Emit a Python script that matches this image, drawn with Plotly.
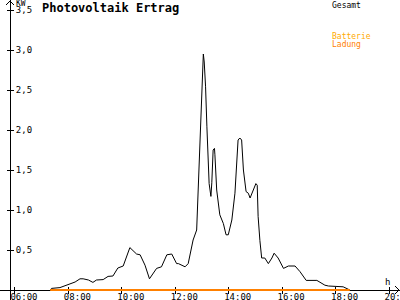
import plotly.graph_objects as go

DAY = "2024-06-01 "

# Gesamt (kW)
gesamt_time = ["07:19", "07:22", "07:41", "08:04", "08:15", "08:26", "08:33", "08:45", "08:55",
               "09:03", "09:18", "09:29", "09:40", "09:51", "10:03", "10:18", "10:33", "10:41",
               "10:52", "11:02", "11:18", "11:29", "11:41", "11:52", "12:03", "12:07", "12:22",
               "12:29", "12:40", "12:48", "12:55", "12:58", "13:00", "13:03", "13:05", "13:08",
               "13:11", "13:14", "13:16", "13:20", "13:22", "13:25", "13:28", "13:29", "13:33",
               "13:40", "13:48", "13:54", "13:59", "14:07", "14:14", "14:21", "14:25", "14:29",
               "14:33", "14:39", "14:44", "14:48", "14:54", "15:01", "15:04", "15:06", "15:10",
               "15:14", "15:21", "15:29", "15:37", "15:42", "15:51", "16:03", "16:14", "16:29",
               "16:40", "16:54", "17:18", "17:36", "17:44", "18:17", "18:32"]
gesamt_kw = [0.0, 0.02, 0.03, 0.075, 0.10, 0.14, 0.14, 0.125, 0.095,
             0.125, 0.13, 0.17, 0.175, 0.275, 0.30, 0.53, 0.45, 0.44,
             0.31, 0.14, 0.27, 0.29, 0.44, 0.45, 0.33, 0.33, 0.29,
             0.33, 0.625, 0.75, 1.75, 2.12, 2.54, 2.95, 2.85, 2.54,
             2.04, 1.62, 1.33, 1.17, 1.34, 1.75, 1.77, 1.69, 1.25,
             0.94, 0.83, 0.69, 0.69, 0.875, 1.21, 1.875, 1.90, 1.875,
             1.5, 1.23, 1.21, 1.15, 1.23, 1.33, 1.31, 0.92, 0.62,
             0.40, 0.40, 0.33, 0.40, 0.46, 0.40, 0.27, 0.30, 0.30,
             0.23, 0.12, 0.12, 0.06, 0.05, 0.04, 0.0]

# Batterie Ladung (kW)
batterie_time = ["07:19", "18:32"]
batterie_kw = [0.0, 0.0]

tick_hours = ["06:00", "08:00", "10:00", "12:00", "14:00", "16:00", "18:00", "20:00"]
y_ticks = [0.5, 1.0, 1.5, 2.0, 2.5, 3.0, 3.5]

x_range = [DAY + "05:26:20", DAY + "20:24:40"]
y_range = [-0.125, 3.625]

fig = go.Figure()
fig.add_trace(go.Scatter(x=[DAY + t for t in gesamt_time], y=gesamt_kw, mode="lines",
                         line=dict(color="black", width=1), name="Gesamt"))
fig.add_trace(go.Scatter(x=[DAY + t for t in batterie_time], y=batterie_kw, mode="lines",
                         line=dict(color="#FF8000", width=2), name="Batterie Ladung"))

mono = "DejaVu Sans Mono"
fig.update_layout(
    width=400, height=300, autosize=False,
    margin=dict(l=0, r=0, t=0, b=0, pad=0),
    paper_bgcolor="white", plot_bgcolor="white",
    showlegend=False,
    separators=",.",
    font=dict(family=mono, size=9, color="black"),
    xaxis=dict(type="date", range=x_range, domain=[0, 1], anchor="free", position=10 / 300,
               showline=True, linecolor="black", linewidth=1, showgrid=False, zeroline=False,
               ticks="inside", ticklen=3, tickcolor="black",
               tickvals=[DAY + t for t in tick_hours], tickformat="%H:%M",
               ticklabeloverflow="allow", ticklabelstandoff=-2, ticklabelshift=9,
               tickfont=dict(family=mono, size=9), layer="below traces", automargin=False),
    xaxis2=dict(type="date", range=x_range, domain=[0, 1], anchor="free", position=10 / 300,
                overlaying="x", showline=False, showgrid=False, zeroline=False,
                ticks="outside", ticklen=3, tickcolor="black",
                tickvals=[DAY + t for t in tick_hours], showticklabels=False, automargin=False),
    yaxis=dict(range=y_range, domain=[0, 1], anchor="free", position=10 / 400, side="right",
               showline=True, linecolor="black", linewidth=1, showgrid=False, zeroline=False,
               ticks="outside", ticklen=3, tickcolor="black",
               tickvals=y_ticks, tickformat=".1f",
               tickfont=dict(family=mono, size=9), layer="below traces", automargin=False),
    yaxis2=dict(range=y_range, domain=[0, 1], anchor="free", position=10 / 400, side="left",
                overlaying="y", showline=False, showgrid=False, zeroline=False,
                ticks="outside", ticklen=3, tickcolor="black",
                tickvals=y_ticks, showticklabels=False, automargin=False),
)

# dummy trace so the overlay axes are drawn
fig.add_trace(go.Scatter(x=[], y=[], xaxis="x2", yaxis="y2", showlegend=False))

# arrowheads on the axes
fig.add_shape(type="path", xref="paper", yref="paper",
              path=f"M {6/400},{295/300} L {10/400},{299/300} L {14/400},{295/300}",
              line=dict(color="black", width=1))
fig.add_shape(type="path", xref="paper", yref="paper",
              path=f"M {395/400},{14/300} L {399/400},{10/300} L {395/400},{6/300}",
              line=dict(color="black", width=1))

# texts
fig.add_annotation(text="<b>Photovoltaik Ertrag</b>", xref="paper", yref="paper",
                   x=40 / 400, y=1 - 8 / 300, xanchor="left", yanchor="middle", showarrow=False,
                   font=dict(family=mono, size=12, color="black"))
fig.add_annotation(text="KW", xref="paper", yref="paper", x=14 / 400, y=1 - 3 / 300,
                   xanchor="left", yanchor="middle", showarrow=False,
                   font=dict(family=mono, size=8, color="black"))
fig.add_annotation(text="h", xref="paper", yref="paper", x=387 / 400, y=1 - 282 / 300,
                   xanchor="center", yanchor="middle", showarrow=False,
                   font=dict(family=mono, size=9, color="black"))
fig.add_annotation(text="Gesamt", xref="paper", yref="paper", x=330 / 400, y=1 - 5 / 300,
                   xanchor="left", yanchor="middle", showarrow=False,
                   font=dict(family=mono, size=8, color="black"))
fig.add_annotation(text="Batterie", xref="paper", yref="paper", x=330 / 400, y=1 - 36 / 300,
                   xanchor="left", yanchor="middle", showarrow=False,
                   font=dict(family=mono, size=8, color="#FFAA00"))
fig.add_annotation(text="Ladung", xref="paper", yref="paper", x=330 / 400, y=1 - 44 / 300,
                   xanchor="left", yanchor="middle", showarrow=False,
                   font=dict(family=mono, size=8, color="#FF8000"))

fig.write_html("out.html")
